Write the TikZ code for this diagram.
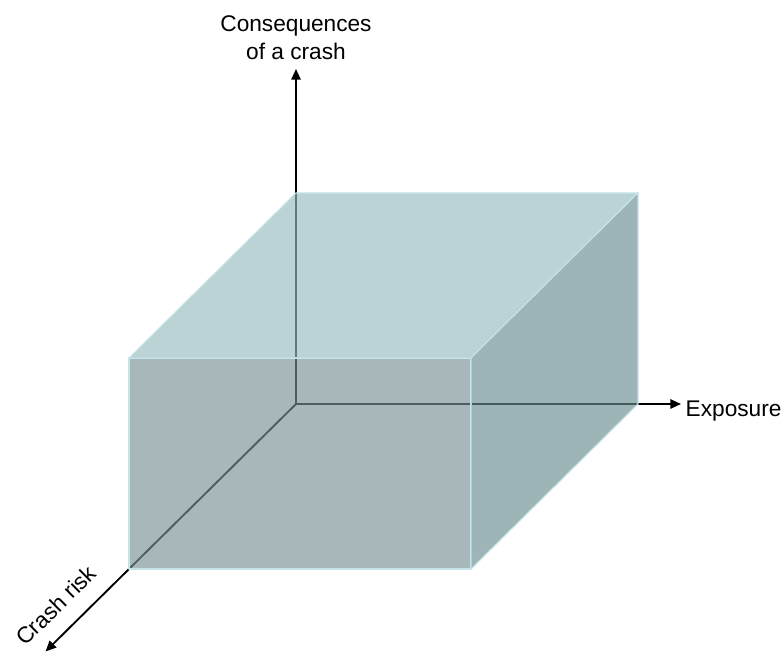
\documentclass[tikz,border=0pt]{standalone}
\usepackage{fontspec}
\setmainfont{Liberation Sans}
\usetikzlibrary{arrows.meta,positioning,calc}

\definecolor{boxedge}{HTML}{C4E4E8}
\definecolor{topface}{RGB}{152,187,192}
\definecolor{frontface}{RGB}{121,144,149}
\definecolor{sideface}{RGB}{106,141,146}

\begin{document}
\begin{tikzpicture}[
      x=0.75pt, y=0.75pt,
      font=\fontsize{17}{21}\selectfont,
      axis/.style={-{Triangle[length=8pt, width=7pt]}, line width=1.4pt},
      face/.style={draw=boxedge, line width=0.8pt, fill opacity=0.65,
                   line join=round},
      lbl/.style={align=center}
    ]
    \useasboundingbox (0,0) rectangle (784,655);

    % axes
    \coordinate (O) at (296,251);
    \coordinate (A) at (129,86);
    \coordinate (zEnd) at (296,586);
    \coordinate (xEnd) at (681,251);
    \coordinate (yEnd) at ($(O)!1.5!(A)$);

    \draw[axis] (O) -- (zEnd);
    \draw[axis] (O) -- (xEnd);
    \draw[axis] (O) -- (yEnd);

    \node[lbl, above=3.5pt of zEnd] (cons) {Consequences\\ of a crash};
    \node[lbl, right=0pt of xEnd, yshift=-5pt] (expo) {Exposure};
    \node[lbl, rotate=44.7, anchor=south, inner sep=0pt, outer sep=13pt]
      (risk) at ($(O)!1.33!(A)$) {Crash risk};

    % box (front face, depth offset to the back)
    \coordinate (B) at (471,86);
    \coordinate (C) at (471,297);
    \coordinate (D) at (129,297);
    \coordinate (Bb) at ($(B)+(167,165)$);
    \coordinate (Cb) at ($(C)+(167,165)$);
    \coordinate (Db) at ($(D)+(167,165)$);

    \filldraw[face, fill=frontface] (A) -- (B) -- (C) -- (D) -- cycle;
    \filldraw[face, fill=topface] (D) -- (C) -- (Cb) -- (Db) -- cycle;
    \filldraw[face, fill=sideface] (B) -- (Bb) -- (Cb) -- (C) -- cycle;
  \end{tikzpicture}
\end{document}
